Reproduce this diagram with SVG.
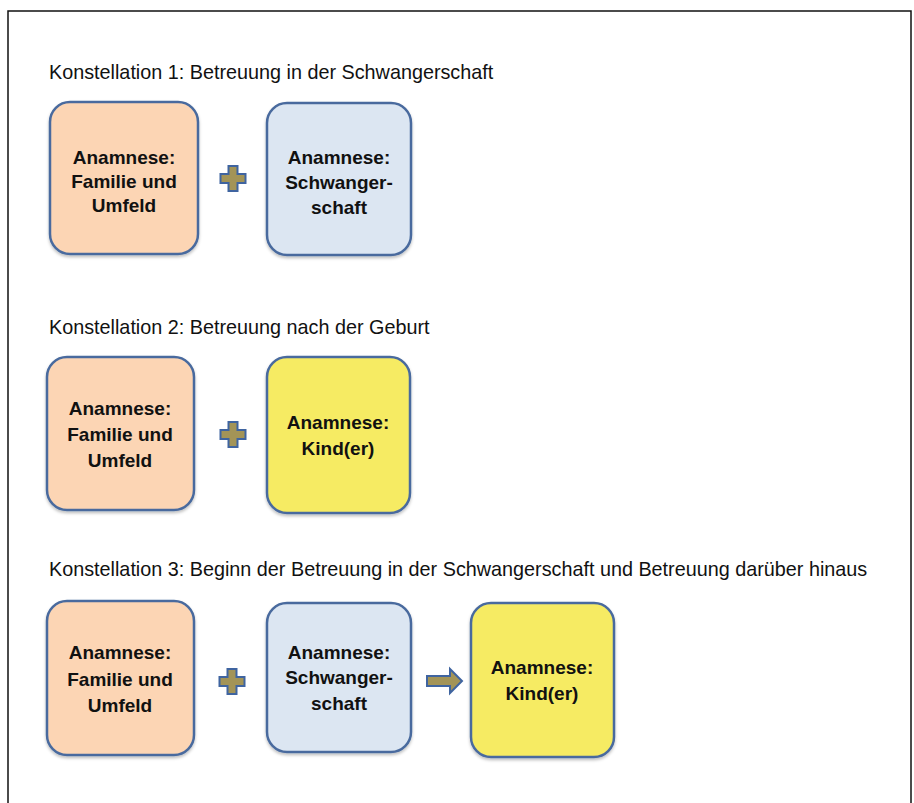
<svg xmlns="http://www.w3.org/2000/svg" width="914" height="803" viewBox="0 0 914 803">
<defs>
<filter id="sh" x="-10%" y="-10%" width="120%" height="125%">
<feDropShadow dx="0" dy="2" stdDeviation="1.5" flood-color="#000" flood-opacity="0.25"/>
</filter>
</defs>
<style>
.box{stroke:#4a6b9e;stroke-width:2.5;filter:url(#sh)}
.peach{fill:#fcd5b4}
.blue{fill:#dce6f2}
.yellow{fill:#f6eb64}
.bt{font-family:"Liberation Sans",Arial,sans-serif;font-weight:bold;font-size:19px;fill:#111;text-anchor:middle}
.hd{font-family:"Liberation Sans",Arial,sans-serif;font-size:19.8px;fill:#111}
.sym{fill:#a39457;stroke:#3f64a0;stroke-width:2;stroke-linejoin:miter}
</style>
<rect x="8" y="11" width="903" height="800" fill="#fff" stroke="#111" stroke-width="1.5"/>

<text class="hd" x="49" y="79">Konstellation 1: Betreuung in der Schwangerschaft</text>
<text class="hd" x="49" y="334">Konstellation 2: Betreuung nach der Geburt</text>
<text class="hd" x="49" y="576">Konstellation 3: Beginn der Betreuung in der Schwangerschaft und Betreuung darüber hinaus</text>

<g id="k1-familie">
<rect class="box peach" x="50" y="102" width="148" height="152" rx="20"/>
<text class="bt" x="124" y="164">Anamnese:</text>
<text class="bt" x="124" y="188">Familie und</text>
<text class="bt" x="124" y="212">Umfeld</text>
</g>
<g id="k1-schwanger">
<rect class="box blue" x="267" y="103" width="144" height="152" rx="20"/>
<text class="bt" x="339" y="164">Anamnese:</text>
<text class="bt" x="339" y="189">Schwanger-</text>
<text class="bt" x="339" y="214">schaft</text>
</g>

<g id="k2-familie">
<rect class="box peach" x="47" y="357" width="147" height="153" rx="20"/>
<text class="bt" x="120" y="415">Anamnese:</text>
<text class="bt" x="120" y="441">Familie und</text>
<text class="bt" x="120" y="467">Umfeld</text>
</g>
<g id="k2-kind">
<rect class="box yellow" x="267" y="357" width="143" height="156" rx="20"/>
<text class="bt" x="338" y="429">Anamnese:</text>
<text class="bt" x="338" y="455">Kind(er)</text>
</g>

<g id="k3-familie">
<rect class="box peach" x="47" y="601" width="147" height="154" rx="20"/>
<text class="bt" x="120" y="659">Anamnese:</text>
<text class="bt" x="120" y="686">Familie und</text>
<text class="bt" x="120" y="712">Umfeld</text>
</g>
<g id="k3-schwanger">
<rect class="box blue" x="267" y="603" width="144" height="149" rx="20"/>
<text class="bt" x="339" y="659">Anamnese:</text>
<text class="bt" x="339" y="684">Schwanger-</text>
<text class="bt" x="339" y="710">schaft</text>
</g>
<g id="k3-kind">
<rect class="box yellow" x="471" y="603" width="143" height="154" rx="20"/>
<text class="bt" x="542" y="674">Anamnese:</text>
<text class="bt" x="542" y="700">Kind(er)</text>
</g>

<g id="connectors">
<path class="sym" d="M228.5,166 h9 v8 h8 v9 h-8 v8 h-9 v-8 h-8 v-9 h8 z"/>
<path class="sym" d="M228.5,422 h9 v8 h8 v9 h-8 v8 h-9 v-8 h-8 v-9 h8 z"/>
<path class="sym" d="M227.5,669 h9 v8 h8 v9 h-8 v8 h-9 v-8 h-8 v-9 h8 z"/>
<path class="sym" d="M427,676 h23 v-7 l12,12 l-12,12 v-7 h-23 z"/>
</g>
</svg>
